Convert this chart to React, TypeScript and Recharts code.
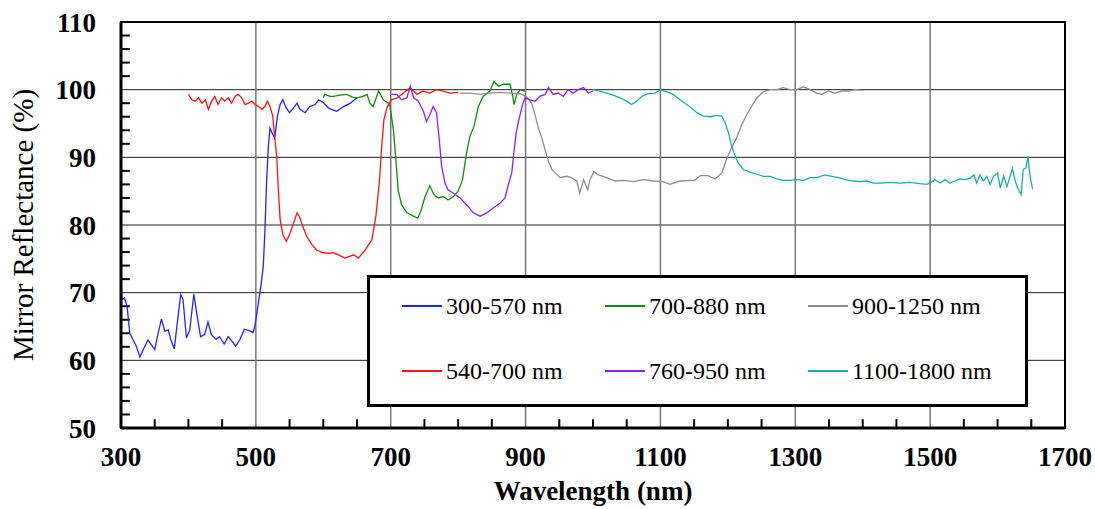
import {
  LineChart,
  Line,
  XAxis,
  YAxis,
  CartesianGrid,
  ReferenceArea,
  ReferenceLine,
  Legend,
} from 'recharts';

// tick positions
const xTicks = [300, 500, 700, 900, 1100, 1300, 1500, 1700];
const yTicks = [50, 60, 70, 80, 90, 100, 110];
const xMinorTicks = [
  350, 400, 450, 550, 600, 650, 750, 800, 850, 950, 1000, 1050, 1150, 1200, 1250, 1350, 1400, 1450,
  1550, 1600, 1650,
];
const yMinorTicks = [
  52, 54, 56, 58, 62, 64, 66, 68, 72, 74, 76, 78, 82, 84, 86, 88, 92, 94, 96, 98, 102, 104, 106, 108,
];
const xGrid = [500, 700, 900, 1100, 1300, 1500];
const yGrid = [60, 70, 80, 90, 100];

// [wavelength nm, reflectance %]
const band300_570: [number, number][] = [
  [300, 72.0], [301.5, 69.0], [305, 69.2], [309, 68.0], [313, 64.0], [318, 63.0], [323, 62.0],
  [328, 60.5], [333, 61.6], [340, 63.0], [345, 62.3], [350, 61.6], [355, 64.0], [360, 66.1],
  [365, 64.3], [370, 64.5], [374, 63.0], [379, 61.7], [384, 66.0], [388.5, 69.7], [392, 69.0],
  [397, 63.3], [402, 64.5], [408, 69.8], [413, 66.5], [418, 63.5], [424, 63.8], [429, 65.7],
  [434, 63.8], [441, 63.1], [446, 63.5], [453, 62.4], [459, 63.5], [464, 62.9], [470, 62.1],
  [476, 63.0], [483, 64.6], [490, 64.4], [496, 64.1], [499, 65.3], [503, 68.0], [508, 71.4],
  [511, 73.9], [513.5, 79.3], [516, 86.7], [518.5, 91.6], [521, 94.3], [525, 93.4], [528, 92.9],
  [532, 96.1], [536, 97.8], [540, 98.5], [545, 97.3], [550, 96.6], [556, 97.3], [561, 98.0],
  [565.5, 97.1], [573, 96.6], [580, 97.5], [588, 97.8], [593, 98.5], [600, 98.1], [607.5, 97.3],
  [612, 97.1], [620, 96.8], [630, 97.5], [640, 98.0], [650, 98.8],
];

const band540_700: [number, number][] = [
  [400, 99.3], [405, 98.5], [410, 98.3], [415, 98.8], [420, 98.0], [425, 98.5], [429.5, 97.1],
  [434.5, 98.3], [439, 99.0], [444, 97.8], [449, 98.8], [454, 98.3], [459, 98.8], [464, 98.0],
  [469, 99.0], [474, 99.3], [479, 98.8], [484, 97.8], [489, 98.0], [494, 98.3], [499, 97.8],
  [504, 97.5], [509, 97.1], [513.5, 97.5], [517, 98.3], [521, 97.5], [525, 96.1], [528, 92.9],
  [531, 90.1], [533, 85.7], [536, 80.8], [540, 78.6], [545, 77.6], [550, 78.6], [556, 80.3],
  [561, 81.8], [564.5, 81.3], [569.5, 79.8], [575.5, 78.3], [583, 77.1], [590, 76.3], [600, 75.9],
  [607.5, 75.8], [615, 75.9], [624, 75.5], [632, 75.1], [645, 75.6], [652, 75.1], [662, 76.3],
  [672, 77.8], [678, 81.3], [683, 86.2], [687, 92.1], [690, 95.6], [695, 97.5], [701, 98.5],
  [710, 98.8], [719, 99.5], [729, 100.3], [739, 99.3], [748, 99.8], [758, 99.5], [768, 100.0],
  [778, 99.8], [788, 99.5], [800, 99.6],
];

const band700_880: [number, number][] = [
  [600, 98.8], [602, 99.3], [610, 99.0], [615, 99.0], [625, 99.2], [635, 99.3], [643, 98.9],
  [650, 98.8], [659, 99.0], [665, 99.3], [669, 98.0], [674, 97.5], [682, 99.8], [689, 98.5],
  [692, 98.3], [696.5, 98.0], [699, 97.5], [704, 94.1], [708, 89.2], [711, 85.2], [716, 83.0],
  [724, 81.8], [734, 81.3], [740, 81.0], [744.5, 82.0], [751, 84.2], [758, 85.8], [764, 84.5],
  [770.5, 84.0], [778, 84.2], [785, 83.7], [793, 84.2], [800, 85.0], [806.5, 86.7], [812.5, 90.7],
  [817.5, 93.1], [823.5, 94.6], [830, 97.5], [837, 99.0], [847, 99.8], [853, 101.2], [860, 100.5],
  [867, 100.8], [877, 100.8], [881, 99.0], [883, 97.8], [887, 99.3], [892, 100.0], [899, 99.8],
];

const band760_950: [number, number][] = [
  [701, 99.3], [709, 99.3], [716, 98.5], [724, 98.8], [729, 100.5], [734, 98.8], [741, 98.3],
  [748.5, 96.8], [753, 95.3], [758, 96.3], [763, 97.5], [768, 96.6], [772, 92.6], [775.5, 88.7],
  [780.5, 86.2], [785, 85.2], [793, 84.7], [803, 84.0], [812.5, 83.0], [822.5, 81.8], [832.5, 81.3],
  [842.5, 81.8], [852, 82.5], [862, 83.2], [869.5, 84.0], [874, 85.8], [879.5, 87.7], [882, 90.1],
  [886, 93.6], [890, 95.5], [895, 97.6], [899, 98.8], [906.5, 98.5], [914, 98.3], [921, 99.0],
  [929, 99.3], [934, 100.3], [941, 99.3], [948.5, 99.5], [956, 99.0], [963, 100.0], [971, 99.5],
  [978, 100.0], [986, 100.3], [993, 99.5], [1000, 99.8],
];

const band900_1250: [number, number][] = [
  [803, 99.5], [818, 99.5], [832, 99.3], [847, 99.5], [862, 99.6], [877, 99.5], [892, 99.4],
  [902, 98.9], [909, 98.0], [914, 96.3], [919, 94.3], [924, 92.9], [929, 91.1], [934, 89.4],
  [939, 88.2], [944, 87.7], [951, 87.0], [961, 87.2], [968, 87.0], [976, 86.5], [980.5, 84.7],
  [986, 86.7], [992, 85.2], [995.5, 86.7], [1001.5, 87.9], [1008, 87.4], [1020, 87.0], [1033, 86.5],
  [1045, 86.6], [1060, 86.4], [1075, 86.7], [1089.5, 86.5], [1104, 86.4], [1114, 86.0], [1129, 86.5],
  [1144, 86.6], [1151, 86.6], [1159, 87.3], [1171, 87.3], [1181, 86.8], [1191, 87.7], [1198, 89.7],
  [1205.5, 91.4], [1213, 92.9], [1220.5, 94.8], [1228, 96.3], [1235, 97.5], [1243, 98.8],
  [1253, 99.7], [1263, 100.0], [1273, 100.0], [1282, 100.3], [1292, 100.0], [1302, 100.0],
  [1312, 100.4], [1322, 100.0], [1332, 99.5], [1339, 99.3], [1349, 99.8], [1359, 99.5],
  [1369, 99.8], [1379, 99.8], [1389, 100.0], [1401, 99.9],
];

const band1100_1800: [number, number][] = [
  [1000, 100.0], [1010, 99.8], [1020, 99.5], [1030, 99.2], [1040, 98.8], [1050, 98.3], [1057, 97.8],
  [1065, 98.3], [1072, 99.0], [1082, 99.4], [1092, 99.5], [1100, 100.0], [1109, 99.7], [1119, 99.3],
  [1129, 98.5], [1139, 97.8], [1146, 97.3], [1154, 96.6], [1164, 96.1], [1174, 96.0], [1183, 96.2],
  [1191, 96.1], [1196, 95.1], [1201, 93.6], [1205, 91.9], [1210, 90.4], [1215, 89.2], [1223, 88.2],
  [1233, 87.8], [1243, 87.5], [1253, 87.2], [1263, 87.2], [1273, 86.8], [1282, 86.6], [1292, 86.6],
  [1302, 86.7], [1312, 86.6], [1322, 87.0], [1332, 87.0], [1344, 87.4], [1354, 87.2], [1364, 87.0],
  [1374, 86.7], [1386, 86.5], [1396, 86.4], [1406, 86.5], [1416, 86.2], [1426, 86.2], [1441, 86.3],
  [1455, 86.2], [1470, 86.3], [1485, 86.1], [1495, 86.0], [1501, 86.3], [1507, 86.7], [1515, 86.2],
  [1522, 86.7], [1529, 86.2], [1537, 86.5], [1544, 86.8], [1552, 86.7], [1559, 86.9], [1565, 87.4],
  [1569, 86.2], [1574, 87.4], [1579, 86.5], [1584, 87.2], [1589, 86.0], [1594, 87.2], [1600, 87.7],
  [1604, 85.5], [1609, 87.2], [1614, 85.7], [1618, 87.0], [1622, 88.3], [1627, 86.2], [1631, 85.2],
  [1635, 84.5], [1638, 88.2], [1642, 88.4], [1645, 90.1], [1647, 88.2], [1649, 86.7], [1652, 85.3],
];

// legend order: row 1 then row 2
const series = [
  { name: '300-570 nm', color: '#2222ff', points: band300_570 },
  { name: '700-880 nm', color: '#118c11', points: band700_880 },
  { name: '900-1250 nm', color: '#8e8e8e', points: band900_1250 },
  { name: '540-700 nm', color: '#ff1111', points: band540_700 },
  { name: '760-950 nm', color: '#8a1eff', points: band760_950 },
  { name: '1100-1800 nm', color: '#1aadad', points: band1100_1800 },
];

const serif = '"Liberation Serif", "Times New Roman", serif';
const tickStyle = { fontSize: 27, fontFamily: serif, fontWeight: 'bold', fill: '#000' };
// inward minor tick length, in axis units (~9px)
const X_MINOR_LEN = 13;
const Y_MINOR_LEN = 1.3;

function LegendBox() {
  const colLeft = [35, 238, 441];
  const rowMid = [31, 96];
  return (
    <div
      style={{
        position: 'relative',
        width: 661,
        height: 132,
        boxSizing: 'border-box',
        border: '3px solid #000',
        background: '#fff',
      }}
    >
      {series.map((s, i) => (
        <div
          key={s.name}
          style={{
            position: 'absolute',
            left: colLeft[i % 3] - 3,
            top: rowMid[Math.floor(i / 3)] - 3 - 14,
            height: 28,
            display: 'flex',
            alignItems: 'center',
            fontFamily: serif,
            fontSize: 24,
            color: '#000',
            whiteSpace: 'nowrap',
          }}
        >
          <span style={{ display: 'inline-block', width: 40, height: 1.5, background: s.color }} />
          <span style={{ marginLeft: 4 }}>{s.name}</span>
        </div>
      ))}
    </div>
  );
}

export default function App() {
  return (
    <div style={{ position: 'absolute', left: 0, top: 0, background: '#fff' }}>
      <LineChart width={1095} height={509} margin={{ top: 22, right: 30, bottom: 0, left: 0 }}>
        <CartesianGrid vertical={false} horizontalValues={yGrid} stroke="#222" strokeWidth={1} />
        <CartesianGrid horizontal={false} verticalValues={xGrid} stroke="#777" strokeWidth={1.5} />
        <XAxis
          type="number"
          dataKey="x"
          scale="linear"
          domain={[300, 1700]}
          allowDataOverflow
          ticks={xTicks}
          interval={0}
          height={81}
          tickLine={false}
          tickSize={0}
          tickMargin={19}
          axisLine={{ stroke: '#000', strokeWidth: 3 }}
          tick={tickStyle}
          label={{
            value: 'Wavelength (nm)',
            position: 'insideBottom',
            offset: 9,
            fill: '#000',
            style: { fontSize: 27, fontFamily: serif, fontWeight: 'bold', fill: '#000' },
          }}
        />
        <YAxis
          type="number"
          domain={[50, 110]}
          allowDataOverflow
          ticks={yTicks}
          interval={0}
          width={121}
          tickLine={false}
          tickSize={0}
          tickMargin={25}
          axisLine={{ stroke: '#000', strokeWidth: 3 }}
          tick={tickStyle}
          label={{
            value: 'Mirror Reflectance (%)',
            angle: -90,
            position: 'insideLeft',
            offset: 23,
            fill: '#000',
            style: { textAnchor: 'middle', fontSize: 29, fontFamily: serif, fill: '#000' },
          }}
        />
        {xMinorTicks.map((v) => (
          <ReferenceLine
            key={`xm${v}`}
            segment={[
              { x: v, y: 50 },
              { x: v, y: 50 + Y_MINOR_LEN },
            ]}
            stroke="#000"
            strokeWidth={2}
            ifOverflow="visible"
          />
        ))}
        {yMinorTicks.map((v) => (
          <ReferenceLine
            key={`ym${v}`}
            segment={[
              { x: 300, y: v },
              { x: 300 + X_MINOR_LEN, y: v },
            ]}
            stroke="#000"
            strokeWidth={2}
            ifOverflow="visible"
          />
        ))}
        <ReferenceArea
          x1={300}
          x2={1700}
          y1={50}
          y2={110}
          fill="none"
          fillOpacity={0}
          stroke="#000"
          strokeWidth={2}
          ifOverflow="visible"
        />
        {series.map((s) => (
          <Line
            key={s.name}
            name={s.name}
            data={s.points.map(([x, y]) => ({ x, y }))}
            dataKey="y"
            type="linear"
            stroke={s.color}
            strokeWidth={1.3}
            dot={false}
            activeDot={false}
            isAnimationActive={false}
          />
        ))}
        <Legend
          layout="horizontal"
          verticalAlign="middle"
          align="center"
          wrapperStyle={{ left: 367, top: 275, width: 661, height: 132 }}
          content={() => <LegendBox />}
        />
      </LineChart>
    </div>
  );
}
